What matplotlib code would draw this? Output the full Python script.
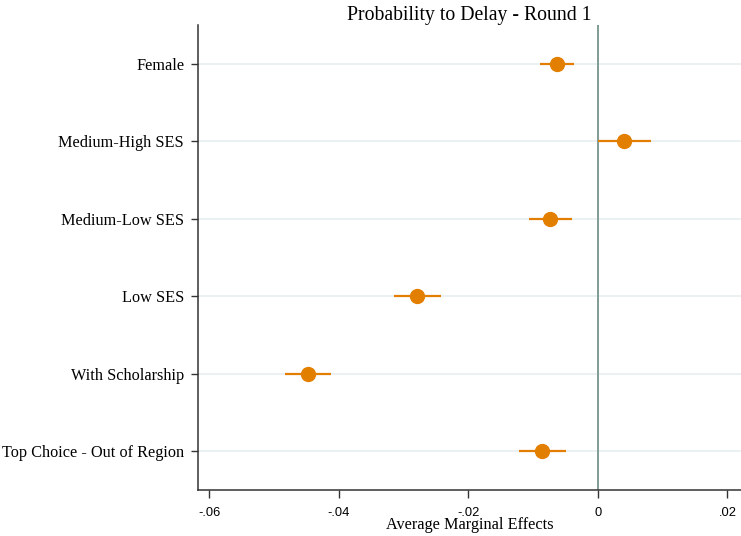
import matplotlib
matplotlib.use("Agg")
import matplotlib.pyplot as plt

# average marginal effects and 95% CIs
labels = ["Female", "Medium-High SES", "Medium-Low SES", "Low SES",
          "With Scholarship", "Top Choice - Out of Region"]
ame = [-0.0063, 0.0041, -0.0074, -0.0279, -0.0447, -0.0086]
ci_low = [-0.0089, 0.0000, -0.0106, -0.0315, -0.0483, -0.0122]
ci_high = [-0.0037, 0.0082, -0.0040, -0.0242, -0.0412, -0.0049]
xticks = [-0.06, -0.04, -0.02, 0, 0.02]
xtick_labels = ["-.06", "-.04", "-.02", "0", ".02"]

orange = "#e37f00"
serif = ["Liberation Serif", "DejaVu Serif"]
sans = ["Liberation Sans", "DejaVu Sans"]

fig = plt.figure(figsize=(7.41, 5.36), dpi=100)
ax = fig.add_axes([198 / 741, 1 - 490 / 536, 543 / 741, 465 / 536])

ypos = list(range(len(labels)))
for y in ypos:
    ax.axhline(y, color="#e8eff1", lw=1.2, zorder=0)
ax.axvline(0, color="#7f9c95", lw=1.4, zorder=1)

ax.hlines(ypos, ci_low, ci_high, color=orange, lw=1.6, zorder=2)
ax.plot(ame, ypos, "o", color=orange, ms=10, zorder=3)

ax.set_ylim(len(labels) - 0.5, -0.5)
ax.set_xlim(-0.0617, 0.0221)
ax.set_yticks(ypos)
ax.set_yticklabels(labels, family=serif, fontsize=11.7)
ax.set_xticks(xticks)
ax.set_xticklabels(xtick_labels, family=sans, fontsize=9.3)
ax.tick_params(axis="y", length=5, width=1, pad=5, color="#333333")
ax.tick_params(axis="x", length=6, width=1, pad=6, color="#333333")

ax.spines["top"].set_visible(False)
ax.spines["right"].set_visible(False)
for s in ["left", "bottom"]:
    ax.spines[s].set_color("#333333")
    ax.spines[s].set_linewidth(1.1)

ax.set_xlabel("Average Marginal Effects", family=serif, fontsize=11.7, labelpad=-1)
ax.set_title("Probability to Delay - Round 1", family=serif, fontsize=14.2, pad=3)

fig.savefig("out.png", dpi=100)
